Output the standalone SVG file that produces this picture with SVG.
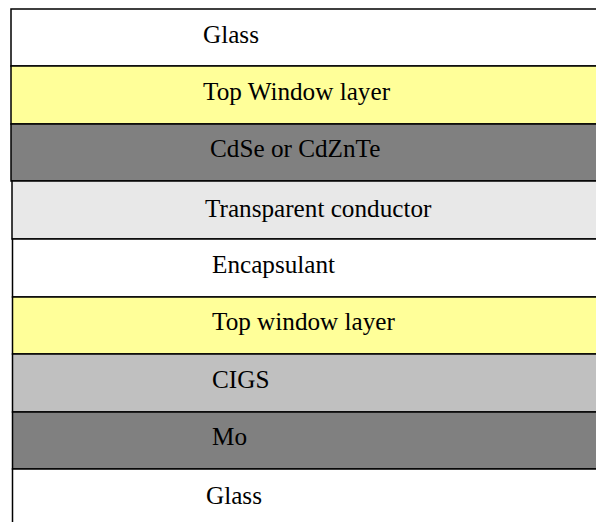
<svg xmlns="http://www.w3.org/2000/svg" width="596" height="522" viewBox="0 0 596 522">
<style>
.l{stroke:#000;stroke-width:1.5}
.t{font-family:"Liberation Serif","Times New Roman",serif;font-size:25.2px;fill:#000}
</style>
<rect x="0" y="0" width="596" height="522" fill="#fff"/>
<g id="glass-top"><rect class="l" x="11" y="9" width="700" height="57" fill="#fff"/><text class="t" x="203" y="43">Glass</text></g>
<g id="top-window-1"><rect class="l" x="11" y="66" width="700" height="58" fill="#ffff99"/><text class="t" x="203" y="100">Top Window layer</text></g>
<g id="cdse"><rect class="l" x="11" y="124" width="700" height="57" fill="#808080"/><text class="t" x="210" y="157">CdSe or CdZnTe</text></g>
<g id="transparent-conductor"><rect class="l" x="12" y="181" width="700" height="58" fill="#e8e8e8"/><text class="t" x="205" y="217">Transparent conductor</text></g>
<g id="encapsulant"><rect class="l" x="12.5" y="239" width="700" height="58" fill="#fff"/><text class="t" x="212" y="273">Encapsulant</text></g>
<g id="top-window-2"><rect class="l" x="12.5" y="297" width="700" height="57" fill="#ffff99"/><text class="t" x="212" y="330">Top window layer</text></g>
<g id="cigs"><rect class="l" x="12.5" y="354" width="700" height="58" fill="#c0c0c0"/><text class="t" x="212" y="388">CIGS</text></g>
<g id="mo"><rect class="l" x="12.5" y="412" width="700" height="57" fill="#808080"/><text class="t" x="212" y="445">Mo</text></g>
<g id="glass-bottom"><rect class="l" x="12.5" y="469" width="700" height="100" fill="#fff"/><text class="t" x="206" y="504">Glass</text></g>
<g id="connectors"/>
</svg>
